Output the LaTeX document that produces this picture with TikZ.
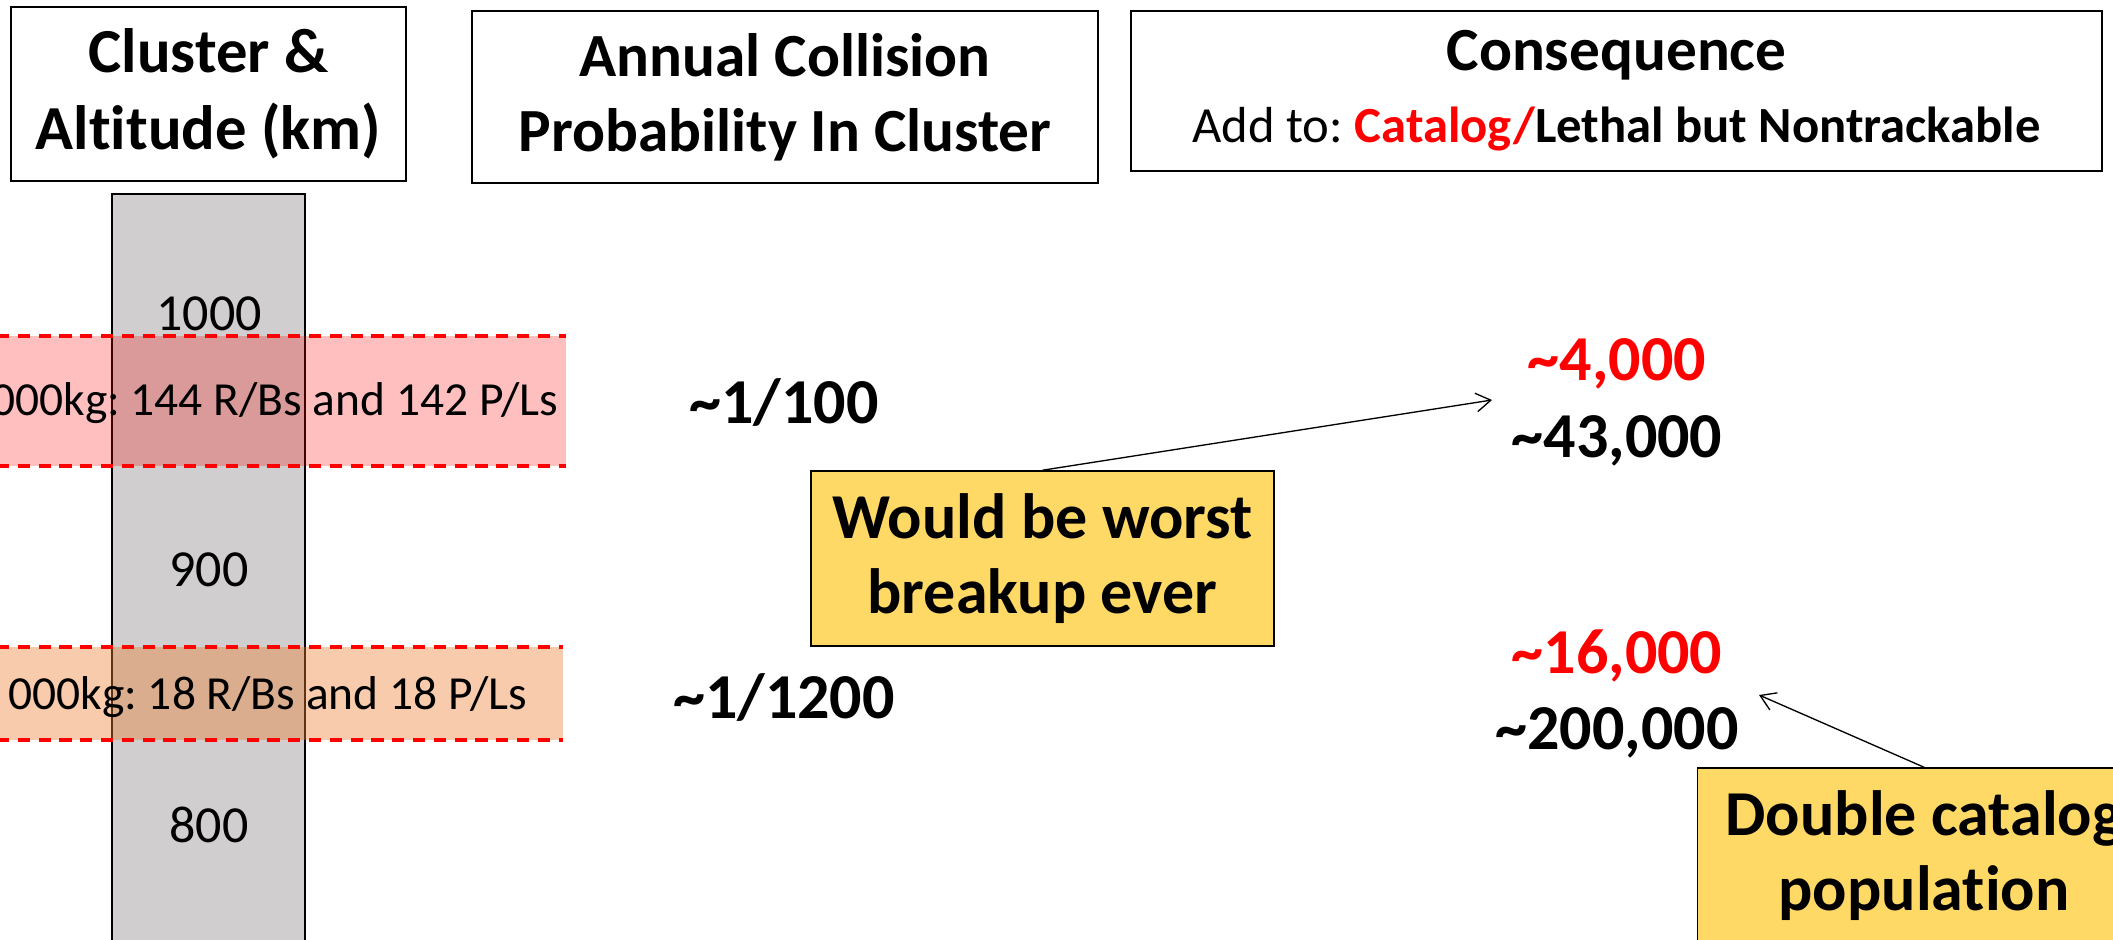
\documentclass[tikz,border=0pt]{standalone}
\usepackage{fontspec}
\setmainfont{Carlito}[Ligatures=NoCommon]
\usetikzlibrary{arrows.meta}

\definecolor{colgray}{RGB}{208,206,206}
\definecolor{notegold}{RGB}{255,217,102}
\definecolor{bandorange}{RGB}{237,125,49}

\tikzset{every picture/.style={line width=0.75pt}}
\tikzset{
  hdrbox/.style={draw, line width=0.8pt, align=center, inner sep=0pt},
  notebox/.style={draw, fill=notegold, line width=0.6pt, align=center, inner sep=0pt, minimum height=65.6pt, font=\fontsize{24}{28}\selectfont\bfseries},
  valtext/.style={inner sep=0pt, font=\fontsize{24}{28}\selectfont\bfseries},
  alttext/.style={inner sep=0pt, font=\fontsize{19.5}{23}\selectfont},
  bandtext/.style={anchor=east, inner sep=0pt, font=\fontsize{17.8}{21}\selectfont},
  bandedge/.style={draw=red, line width=1.4pt, dash pattern=on 4.6pt off 3.2pt},
  callout/.style={line width=0.5pt, -{Straight Barb[length=5.5pt,width=7pt]}}
}

\begin{document}
\frenchspacing
\begin{tikzpicture}[x=0.375pt,y=0.375pt,yscale=-1,xscale=1]
\useasboundingbox (0,0) rectangle (2113,940);
\clip (0,0) rectangle (2113,940);

%Shape: Rectangle
\draw [fill=colgray, line width=0.75pt] (112,194) rectangle (305,960) ;

% Text Node
\draw (209,314) node [alttext] (alt1000) {1000};
% Text Node
\draw (209,570) node [alttext] (alt900) {900};
% Text Node
\draw (209,825) node [alttext] (alt800) {800};

%Shape: Rectangle
\fill [red, fill opacity=0.25] (-10,336) rectangle (566,466) ;
%Shape: Rectangle
\fill [bandorange, fill opacity=0.4] (-10,647) rectangle (563,740) ;
%Straight Lines
\draw [bandedge] (-3,336) -- (566,336) ;
\draw [bandedge] (-3,466) -- (566,466) ;
%Straight Lines
\draw [bandedge] (-3,647) -- (563,647) ;
\draw [bandedge] (-3,740) -- (563,740) ;

% Text Node
\draw (559,403) node [bandtext] (band1txt) {000kg: 144 R/Bs and 142 P/Ls};
% Text Node
\draw (528,697) node [bandtext] (band2txt) {000kg: 18 R/Bs and 18 P/Ls};

% Text Node
\draw (208.5,94) node [hdrbox, minimum width=148pt, minimum height=65pt, font=\fontsize{23.5}{29}\selectfont\bfseries] (hdrcluster) {Cluster \&\\Altitude (km)};
% Text Node
\draw (785,97) node [hdrbox, minimum width=235pt, minimum height=64.5pt, font=\fontsize{23}{28}\selectfont\bfseries] (hdrprob) {Annual Collision\\Probability In Cluster};
% Text Node
\draw (1616.5,91) node [hdrbox, minimum width=364pt, minimum height=60pt, font=\fontsize{19}{27}\selectfont] (hdrcons) {{\fontsize{23}{27}\selectfont\bfseries Consequence}\\Add to: \textbf{\textcolor{red}{Catalog/}Lethal but Nontrackable}};

% Text Node
\draw (784,403) node [valtext] (prob1) {\textasciitilde1/100};
% Text Node
\draw (784,697) node [valtext] (prob2) {\textasciitilde1/1200};

% Text Node
\draw (1617,364) node [valtext, text=red] (cat1) {\textasciitilde4,000};
% Text Node
\draw (1617,441) node [valtext] (leth1) {\textasciitilde43,000};
% Text Node
\draw (1617,656) node [valtext, text=red] (cat2) {\textasciitilde16,000};
% Text Node
\draw (1617,733) node [valtext] (leth2) {\textasciitilde200,000};

% Text Node
\draw (1042.5,558.5) node [notebox, minimum width=173.6pt] (note1) {Would be worst\\breakup ever};
% Text Node
\draw (1924,855.5) node [notebox, minimum width=170pt] (note2) {Double catalog\\population};

\coordinate (tip1) at (1492,400);
\coordinate (tip2) at (1759,695);

%Straight Lines
\draw [callout] (note1.north) -- (tip1) ;
%Straight Lines
\draw [callout] (note2.north) -- (tip2) ;

\end{tikzpicture}
\end{document}
